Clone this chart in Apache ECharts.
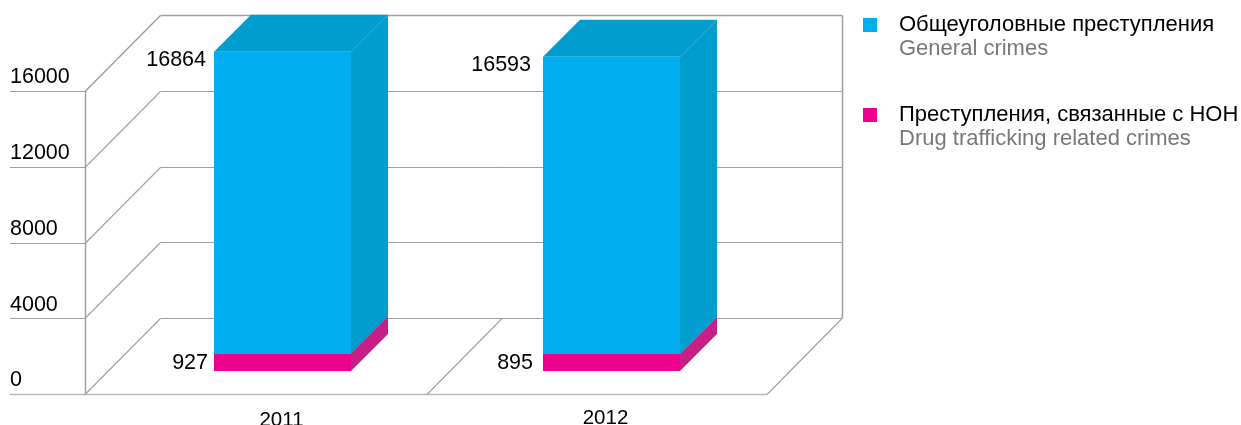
<!DOCTYPE html>
<html>
<head>
<meta charset="utf-8">
<style>html,body{margin:0;padding:0;background:#fff}#chart{width:1241px;height:425px}</style>
<script src="https://cdn.jsdelivr.net/npm/echarts@6/dist/echarts.min.js"></script>
</head>
<body>
<div id="chart"></div>
<script>
const years = ['2011', '2012']
const generalCrimes = [16864, 16593]
const drugCrimes = [927, 895]
const yTicks = [0, 4000, 8000, 12000, 16000]

const generalName = 'Общеуголовные преступления'
const generalNameEn = 'General crimes'
const drugName = 'Преступления, связанные с НОН'
const drugNameEn = 'Drug trafficking related crimes'

const FONT = '"Liberation Sans", Arial, sans-serif'
const LINE = '#a0a0a2'
const WALL_DEPTH = 76   // смещение задней стенки
const BAR_INSET = 23    // бар стоит не на переднем крае пола
const BAR_WIDTH = 137
const BAR_DEPTH = 37
const topGap = [8, 12]
const bottomGap = [6, 10]

const seg = (x1, y1, x2, y2, lineWidth, stroke) => ({
  type: 'line',
  shape: {x1, y1, x2, y2},
  style: {stroke: stroke || LINE, lineWidth: lineWidth || 1},
  silent: true
})

// стенки и пол псевдо-3D сетки, по одному вызову на тик
const renderFrame = (params, api) => {
  const isTop = api.value(0) === 16000
  const y = Math.round(api.coord([0, api.value(0)])[1]) + 0.5
  const back = y - WALL_DEPTH
  const children = [
    seg(85, back + WALL_DEPTH, 160.5, back, isTop ? 1.5 : 1.1),
    seg(160.5, back, 842, back, isTop ? 1.5 : 1)
  ]
  if (api.value(0) === 0) {
    children.push(
      seg(10, y, 767, y, 1.5, '#b9b9bb'),
      seg(767, y, 842, back, 1.1),
      seg(427, y, 502, back, 1.1),
      seg(842.5, back, 842.5, back - 303, 1.5),
      seg(85.5, y, 85.5, y - 303, 1.5)
    )
  } else {
    children.push(seg(10, y, 85, y))
  }
  return {type: 'group', children}
}

const box = (api, idx, from, to, colors) => {
  const cx = api.coord([idx, 0])[0]
  const left = cx - BAR_WIDTH / 2
  const right = cx + BAR_WIDTH / 2
  const bottom = api.coord([idx, from])[1] - BAR_INSET
  const top = api.coord([idx, to])[1] - BAR_INSET
  const d = BAR_DEPTH
  const poly = (points, fill) => ({type: 'polygon', shape: {points}, style: {fill}})
  const children = [
    poly([[left, top], [left + d, top - d], [right + d, top - d], [right, top]], colors[1]),
    poly([[right, bottom], [right + d, bottom - d], [right + d, top - d], [right, top]], colors[1]),
    {type: 'rect', shape: {x: left, y: top, width: BAR_WIDTH, height: bottom - top}, style: {fill: colors[0]}}
  ]
  return {children, left, top, bottom, right}
}

const barLabel = (text, x, y) => ({
  type: 'text',
  x,
  y,
  style: {text, fill: '#000', font: '21.5px ' + FONT, align: 'right', verticalAlign: 'middle'}
})

const renderDrug = (params, api) => {
  const idx = api.value(0)
  const b = box(api, idx, 0, api.value(1), ['#ec008c', '#c71f85'])
  b.children.push(barLabel(String(api.value(1)), b.left - bottomGap[idx], (b.top + b.bottom) / 2 + 1))
  return {type: 'group', children: b.children}
}

const renderGeneral = (params, api) => {
  const idx = api.value(0)
  const b = box(api, idx, drugCrimes[idx], api.value(1), ['#00adef', '#009dcf'])
  b.children.push(barLabel(String(api.value(1)), b.left - topGap[idx], b.top + 8))
  return {type: 'group', children: b.children}
}

const myChart = echarts.init(document.getElementById('chart'), null, {renderer: 'canvas'})

const legendRich = {
  e: {fontSize: 22, lineHeight: 24, fontFamily: FONT},
  a: {fontSize: 22, lineHeight: 24, fontFamily: FONT, color: '#000', padding: [0, 0, 0, 17]},
  b: {fontSize: 22, lineHeight: 24, fontFamily: FONT, color: '#77787b', padding: [0, 0, 0, 17]}
}

myChart.setOption({
  animation: false,
  backgroundColor: '#fff',
  grid: {left: 118, top: 91, width: 658, height: 303, outerBoundsMode: 'none'},
  legend: {
    data: [generalName, drugName],
    orient: 'vertical',
    left: 863,
    top: -10,
    padding: 0,
    itemWidth: 14,
    itemHeight: 14,
    itemGap: 20,
    icon: 'rect',
    selectedMode: false,
    formatter: name => {
      const en = name === generalName ? generalNameEn : drugNameEn
      return `{e| }\n{a|${name}}\n{b|${en}}`
    },
    textStyle: {rich: legendRich}
  },
  xAxis: {
    type: 'category',
    data: [
      {value: years[0], textStyle: {padding: [0, 2, 0, 0], lineHeight: 28}},
      {value: years[1], textStyle: {padding: [0, 12, 0, 0], lineHeight: 24}}
    ],
    axisLine: {show: false},
    axisTick: {show: false},
    splitLine: {show: false},
    axisLabel: {margin: 12, fontSize: 20.5, fontFamily: FONT, color: '#000', interval: 0}
  },
  yAxis: {
    type: 'value',
    min: yTicks[0],
    max: yTicks[yTicks.length - 1],
    interval: 4000,
    axisLine: {show: false},
    axisTick: {show: false},
    splitLine: {show: false},
    axisLabel: {
      margin: 108,
      align: 'left',
      verticalAlign: 'bottom',
      lineHeight: 27,
      fontSize: 21.5,
      fontFamily: FONT,
      color: '#000',
      formatter: value => String(value)
    }
  },
  series: [
    {
      type: 'custom',
      name: 'frame',
      renderItem: renderFrame,
      data: yTicks.map(v => [v]),
      encode: {y: 0},
      silent: true,
      z: 1
    },
    {
      type: 'custom',
      name: drugName,
      renderItem: renderDrug,
      itemStyle: {color: '#ec008c'},
      data: years.map((y, i) => [i, drugCrimes[i]]),
      encode: {x: 0, y: 1},
      z: 2
    },
    {
      type: 'custom',
      name: generalName,
      renderItem: renderGeneral,
      itemStyle: {color: '#00adef'},
      data: years.map((y, i) => [i, generalCrimes[i]]),
      encode: {x: 0, y: 1},
      z: 3
    }
  ]
})
</script>
</body>
</html>
